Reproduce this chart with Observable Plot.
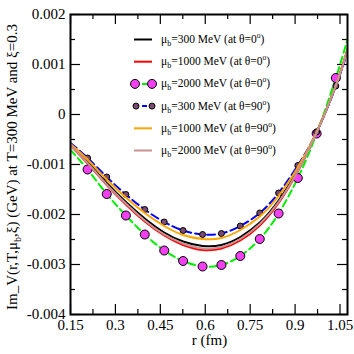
<!DOCTYPE html>
<html>
<head>
<meta charset="utf-8">
<script src="https://cdn.jsdelivr.net/npm/d3@7"></script>
<script src="https://cdn.jsdelivr.net/npm/@observablehq/plot@0.6"></script>
<style>
  html, body { margin: 0; padding: 0; background: #fff; }
  #chart svg { display: block; }
</style>
</head>
<body>
<div id="chart"></div>
<script>
// r grid (fm) for the curves
const rLine = [0.15, 0.207, 0.271, 0.335, 0.398, 0.463, 0.526, 0.591, 0.654, 0.717, 0.782, 0.845, 0.909, 0.972, 1.036, 1.075];
// r of the symbols
const rMark = [0.207, 0.271, 0.335, 0.398, 0.463, 0.526, 0.591, 0.654, 0.717, 0.782, 0.845, 0.909, 0.972, 1.036];

// Im V (GeV)
const mu300_th0   = [-0.00060, -0.00095, -0.00137, -0.00175, -0.00208, -0.00236, -0.00254, -0.00263, -0.00261, -0.00245, -0.00216, -0.00172, -0.00111, -0.00036, 0.00057, 0.00130];
const mu1000_th0  = [-0.00062, -0.00098, -0.00141, -0.00180, -0.00214, -0.00242, -0.00261, -0.00271, -0.00268, -0.00252, -0.00222, -0.00177, -0.00114, -0.00036, 0.00059, 0.00130];
const mu2000_th0  = [-0.00071, -0.00110, -0.00159, -0.00202, -0.00240, -0.00272, -0.00293, -0.00304, -0.00301, -0.00283, -0.00249, -0.00198, -0.00127, -0.00038, 0.00073, 0.00150];
const mu300_th90  = [-0.00057, -0.00087, -0.00125, -0.00160, -0.00190, -0.00215, -0.00232, -0.00240, -0.00238, -0.00223, -0.00197, -0.00157, -0.00102, -0.00035, 0.00057, 0.00125];
const mu1000_th90 = [-0.00059, -0.00090, -0.00130, -0.00166, -0.00197, -0.00223, -0.00241, -0.00249, -0.00247, -0.00231, -0.00204, -0.00163, -0.00106, -0.00035, 0.00058, 0.00130];
const mu2000_th90 = [-0.00062, -0.00097, -0.00140, -0.00178, -0.00212, -0.00240, -0.00258, -0.00268, -0.00265, -0.00249, -0.00219, -0.00175, -0.00113, -0.00036, 0.00058, 0.00130];

// symbol values
const mark2000_th0 = [-0.00110, -0.00159, -0.00202, -0.00240, -0.00272, -0.00293, -0.00304, -0.00301, -0.00283, -0.00249, -0.00198, -0.00127, -0.00038, 0.00073];
const mark300_th90 = [-0.00087, -0.00125, -0.00160, -0.00190, -0.00215, -0.00232, -0.00240, -0.00238, -0.00223, -0.00197, -0.00157, -0.00102, -0.00035, 0.00057];

// ticks
const xMajor = [0.15, 0.3, 0.45, 0.6, 0.75, 0.9, 1.05];
const xMinor = [0.225, 0.375, 0.525, 0.675, 0.825, 0.975];
const yMajor = [-0.004, -0.003, -0.002, -0.001, 0, 0.001, 0.002];
const yMinor = [-0.0035, -0.0025, -0.0015, -0.0005, 0.0005, 0.0015];
const xLabels = ["0.15", "0.3", "0.45", "0.6", "0.75", "0.9", "1.05"];
const yLabels = ["-0.004", "-0.003", "-0.002", "-0.001", "0", "0.001", "0.002"];

const legendLabels = [
  ["300 MeV (at θ=0", ")"],
  ["1000 MeV (at θ=0", ")"],
  ["2000 MeV (at θ=0", ")"],
  ["300 MeV (at θ=90", ")"],
  ["1000 MeV (at θ=90", ")"],
  ["2000 MeV (at θ=90", ")"]
];

const series = [
  {vals: mu300_th0, stroke: "#000000", dash: null},
  {vals: mu1000_th0, stroke: "#ff0000", dash: null},
  {vals: mu2000_th0, stroke: "#00ee00", dash: "7,4"},
  {vals: mu300_th90, stroke: "#0000ff", dash: "8,4"},
  {vals: mu1000_th90, stroke: "#ffa500", dash: null},
  {vals: mu2000_th90, stroke: "#c89090", dash: null}
];

const toRows = (xs, ys) => xs.map((x, i) => ({x, y: ys[i]}));

const W = 354, H = 354;
const mL = 70, mR = 7, mT = 14, mB = 40;
const innerW = W - mL - mR, innerH = H - mT - mB;

const marks = [];
// inward ticks on four sides
marks.push(Plot.tickX(xMajor, {x: d => d, insetTop: innerH - 10, stroke: "black", strokeWidth: 1.2}));
marks.push(Plot.tickX(xMajor, {x: d => d, insetBottom: innerH - 10, stroke: "black", strokeWidth: 1.2}));
marks.push(Plot.tickX(xMinor, {x: d => d, insetTop: innerH - 5, stroke: "black", strokeWidth: 1.2}));
marks.push(Plot.tickX(xMinor, {x: d => d, insetBottom: innerH - 5, stroke: "black", strokeWidth: 1.2}));
marks.push(Plot.tickY(yMajor, {y: d => d, insetLeft: innerW - 10, stroke: "black", strokeWidth: 1.2}));
marks.push(Plot.tickY(yMajor, {y: d => d, insetRight: innerW - 10, stroke: "black", strokeWidth: 1.2}));
marks.push(Plot.tickY(yMinor, {y: d => d, insetLeft: innerW - 5, stroke: "black", strokeWidth: 1.2}));
marks.push(Plot.tickY(yMinor, {y: d => d, insetRight: innerW - 5, stroke: "black", strokeWidth: 1.2}));

series.forEach((s, i) => {
  marks.push(Plot.line(toRows(rLine, s.vals), {
    x: "x", y: "y", curve: "natural", stroke: s.stroke, strokeWidth: 2,
    strokeDasharray: s.dash, clip: true
  }));
  if (i === 2) {
    marks.push(Plot.dot(toRows(rMark, mark2000_th0), {x: "x", y: "y", r: 4.5, fill: "#f040f0", stroke: "black", strokeWidth: 1}));
  }
  if (i === 3) {
    marks.push(Plot.dot(toRows(rMark, mark300_th90), {x: "x", y: "y", r: 3, fill: "#7a4a76", stroke: "black", strokeWidth: 1}));
  }
});

marks.push(Plot.frame({stroke: "black", strokeWidth: 2}));
marks.push(Plot.axisX(xMajor, {tickSize: 0, tickPadding: 5, tickFormat: (d, i) => xLabels[i], fontSize: 15}));
marks.push(Plot.axisY(yMajor, {tickSize: 0, tickPadding: 5, tickFormat: (d, i) => yLabels[i], fontSize: 15}));

const plot = Plot.plot({
  width: W, height: H,
  marginLeft: mL, marginRight: mR, marginTop: mT, marginBottom: mB,
  style: {fontFamily: "'Liberation Serif', 'Times New Roman', serif", fontSize: "15px", background: "white", color: "black"},
  x: {domain: [0.15, 1.075], label: null},
  y: {domain: [-0.004, 0.002], label: null},
  marks
});

document.getElementById("chart").appendChild(plot);

// axis titles and legend
const svg = d3.select(plot);
const font = "'Liberation Serif', 'Times New Roman', serif";

svg.append("text")
  .attr("x", mL + innerW / 2 + 1).attr("y", 345)
  .attr("text-anchor", "middle").attr("font-family", font).attr("font-size", 15)
  .attr("fill", "black").text("r (fm)");

const yt = svg.append("text")
  .attr("transform", `translate(17,${mT + innerH / 2 + 3}) rotate(-90)`)
  .attr("text-anchor", "middle").attr("font-family", font).attr("font-size", 15)
  .attr("fill", "black");
yt.append("tspan").text("Im_V(r,T,μ");
yt.append("tspan").attr("font-size", 10).attr("dy", 4).text("b");
yt.append("tspan").attr("dy", -4).text(",ξ) (GeV) at T=300 MeV and ξ=0.3");

const lg = svg.append("g").attr("text-anchor", "start");
const rowY = [39.5, 61.7, 83.9, 106.1, 128.3, 150.5];
series.forEach((s, i) => {
  const y = rowY[i];
  lg.append("line").attr("x1", 134).attr("x2", 152).attr("y1", y).attr("y2", y)
    .attr("stroke", s.stroke).attr("stroke-width", 2)
    .attr("stroke-dasharray", s.dash ? "5,3" : null);
  if (i === 2) {
    [135, 152].forEach(cx => lg.append("circle").attr("cx", cx).attr("cy", y).attr("r", 4.5)
      .attr("fill", "#f040f0").attr("stroke", "black"));
  }
  if (i === 3) {
    [136, 152].forEach(cx => lg.append("circle").attr("cx", cx).attr("cy", y).attr("r", 3)
      .attr("fill", "#7a4a76").attr("stroke", "black"));
  }
  const t = lg.append("text").attr("x", 161).attr("y", y + 3.5)
    .attr("text-anchor", "start")
    .attr("font-family", font).attr("font-size", 11.5).attr("fill", "black");
  t.append("tspan").text("μ");
  t.append("tspan").attr("font-size", 8).attr("dy", 3).text("b");
  t.append("tspan").attr("dy", -3).text("=" + legendLabels[i][0]);
  t.append("tspan").attr("font-size", 7.5).attr("dy", -5).text("o");
  t.append("tspan").attr("dy", 5).text(legendLabels[i][1]);
});
</script>
</body>
</html>
